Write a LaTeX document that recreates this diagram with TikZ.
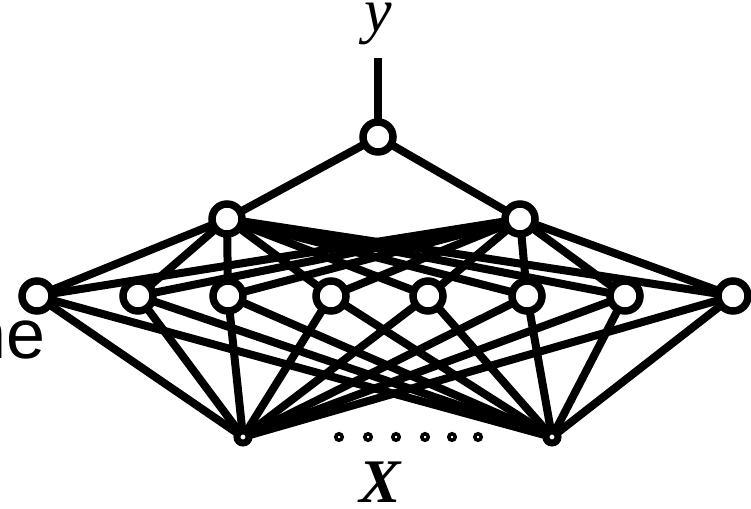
\documentclass[tikz,border=0pt]{standalone}
\usepackage{fontspec}
\setmainfont{Liberation Serif}
\newfontfamily\labsans{Liberation Sans}
\begin{document}
\begin{tikzpicture}[x=1pt,y=-1pt,
  edge/.style={line width=8pt},
  unit/.style={circle,draw,fill=white,line width=7.5pt,minimum size=30pt,inner sep=0pt},
  inp/.style={circle,draw,fill=white,line width=7pt,minimum size=12pt,inner sep=0pt},
  dotm/.style={circle,draw,fill=white,line width=3.5pt,minimum size=6.5pt,inner sep=0pt},
  lab/.style={font=\fontsize{62}{62}\selectfont\itshape,inner sep=0pt}]
\useasboundingbox (0,0) rectangle (751,508);
% coordinates
\coordinate (yt) at (378,58);
\coordinate (t) at (378,137);
\coordinate (a1) at (227,219);
\coordinate (a2) at (520,219);
\foreach \i/\x in {1/37,2/138,3/228,4/331,5/428,6/527,7/625,8/733}
  \coordinate (h\i) at (\x,296);
\coordinate (b1) at (243,437);
\coordinate (b2) at (552,437);
% edges
\draw[edge] (yt) -- (t);
\draw[edge] (t) -- (a1);
\draw[edge] (t) -- (a2);
\foreach \i in {1,...,8} {
  \draw[edge] (a1) -- (h\i);
  \draw[edge] (a2) -- (h\i);
  \draw[edge] (h\i) -- (b1);
  \draw[edge] (h\i) -- (b2);
}
% nodes
\node[unit] (T) at (t) {};
\node[unit] (A1) at (a1) {};
\node[unit] (A2) at (a2) {};
\foreach \i in {1,...,8}
  \node[unit] (H\i) at (h\i) {};
\node[inp] (B1) at (b1) {};
\node[inp] (B2) at (b2) {};
\foreach \i/\x in {1/339,2/368,3/396,4/425,5/452,6/478}
  \node[dotm] (d\i) at (\x,437) {};
% labels
\node[lab,anchor=base] (ylab) at (378,32) {y};
\node[lab,font=\fontsize{62}{62}\selectfont\bfseries\itshape,anchor=base] (xlab) at (380,502) {X};
\node[font=\labsans\fontsize{70}{70}\selectfont,anchor=base east,inner sep=0pt] (ne) at (46,358) {ne};
\end{tikzpicture}
\end{document}
